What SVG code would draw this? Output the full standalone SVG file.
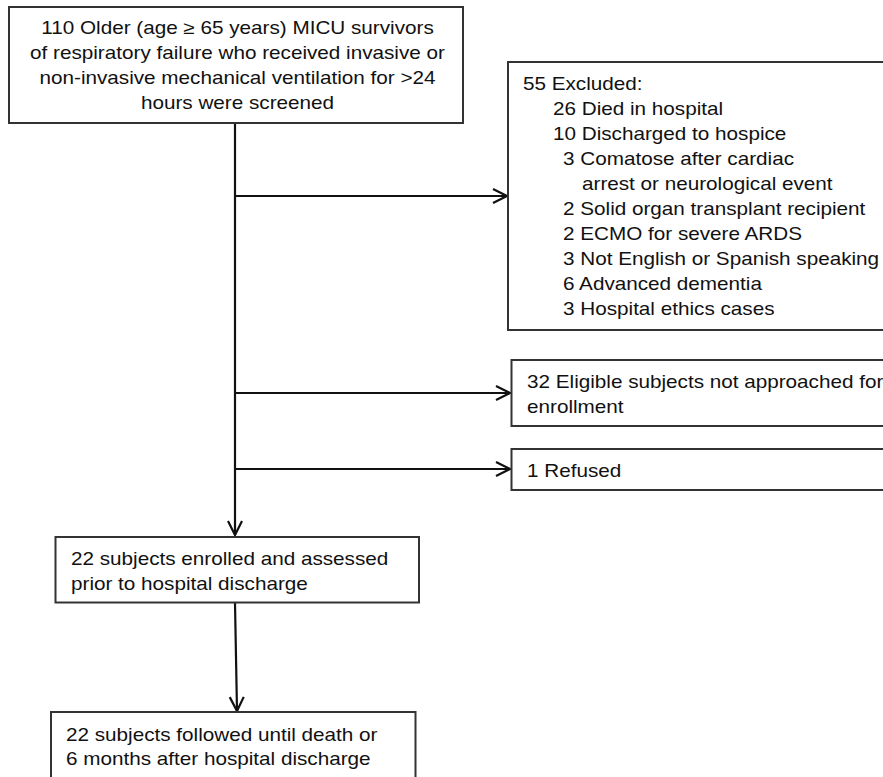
<svg xmlns="http://www.w3.org/2000/svg" width="883" height="777" viewBox="0 0 883 777">
<defs>
<style>
.box{fill:#fff;stroke:#333;stroke-width:2}
.t{font-family:"Liberation Sans",Arial,Helvetica,sans-serif;font-size:18px;fill:#111}
.c{fill:none;stroke:#111;stroke-width:2.2}
</style>
<marker id="ah" markerUnits="userSpaceOnUse" markerWidth="20" markerHeight="20" refX="15" refY="8" orient="auto">
<path d="M1,1 L15,8 L1,15" fill="none" stroke="#111" stroke-width="2.2"/>
</marker>
</defs>
<rect width="883" height="777" fill="#fff"/>
<g id="connectors">
<line class="c" x1="235" y1="123" x2="235" y2="535" marker-end="url(#ah)"/>
<line class="c" x1="235" y1="196" x2="507" y2="196" marker-end="url(#ah)"/>
<line class="c" x1="235" y1="393" x2="510" y2="393" marker-end="url(#ah)"/>
<line class="c" x1="235" y1="469" x2="510" y2="469" marker-end="url(#ah)"/>
<line class="c" x1="235" y1="603" x2="237" y2="711" marker-end="url(#ah)"/>
</g>
<g id="screened">
<rect class="box" x="9" y="7" width="454" height="116"/>
<text class="t" text-anchor="middle" transform="translate(237.5,0) scale(1.15,1)"><tspan x="0" y="34">110 Older (age ≥ 65 years) MICU survivors</tspan><tspan x="0" y="59">of respiratory failure who received invasive or</tspan><tspan x="0" y="84">non-invasive mechanical ventilation for &gt;24</tspan><tspan x="0" y="109">hours were screened</tspan></text>
</g>
<g id="excluded">
<rect class="box" x="508" y="62" width="400" height="268"/>
<text class="t" transform="translate(523,0) scale(1.15,1)"><tspan x="0" y="90">55 Excluded:</tspan><tspan x="26.1" y="115">26 Died in hospital</tspan><tspan x="26.1" y="140">10 Discharged to hospice</tspan><tspan x="34.8" y="165">3 Comatose after cardiac</tspan><tspan x="51.3" y="190">arrest or neurological event</tspan><tspan x="34.8" y="215">2 Solid organ transplant recipient</tspan><tspan x="34.8" y="240">2 ECMO for severe ARDS</tspan><tspan x="34.8" y="265">3 Not English or Spanish speaking</tspan><tspan x="34.8" y="290">6 Advanced dementia</tspan><tspan x="34.8" y="315">3 Hospital ethics cases</tspan></text>
</g>
<g id="not-approached">
<rect class="box" x="511.5" y="360" width="400" height="66"/>
<text class="t" transform="translate(527,0) scale(1.15,1)"><tspan x="0" y="388">32 Eligible subjects not approached for</tspan><tspan x="0" y="413">enrollment</tspan></text>
</g>
<g id="refused">
<rect class="box" x="511.5" y="449" width="400" height="41"/>
<text class="t" transform="translate(527,0) scale(1.15,1)" x="0" y="477">1 Refused</text>
</g>
<g id="enrolled">
<rect class="box" x="55.5" y="537" width="363.5" height="65.5"/>
<text class="t" transform="translate(71,0) scale(1.15,1)"><tspan x="0" y="565">22 subjects enrolled and assessed</tspan><tspan x="0" y="590">prior to hospital discharge</tspan></text>
</g>
<g id="followed">
<rect class="box" x="51" y="712" width="364.5" height="100"/>
<text class="t" transform="translate(66,0) scale(1.15,1)"><tspan x="0" y="741">22 subjects followed until death or</tspan><tspan x="0" y="765">6 months after hospital discharge</tspan></text>
</g>
</svg>
